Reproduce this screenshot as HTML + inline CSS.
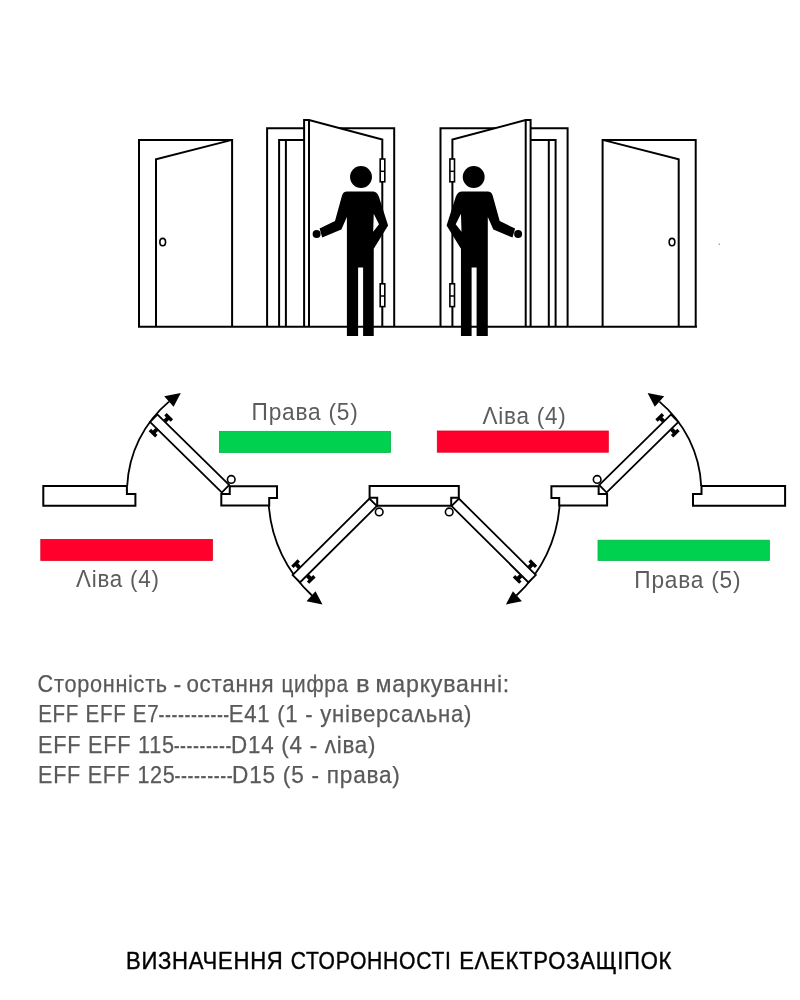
<!DOCTYPE html>
<html><head><meta charset="utf-8">
<style>
html,body{margin:0;padding:0;background:#fff;width:800px;height:1000px;overflow:hidden}
svg{display:block;will-change:transform}
text{font-family:"Liberation Sans",sans-serif}
</style></head><body>
<svg width="800" height="1000" viewBox="0 0 800 1000">
<defs>
<g id="topgrp" fill="none" stroke="#000" stroke-width="2">
  <!-- single door -->
  <path d="M139,326.7 V139.9 H232.1 V326.7"/>
  <path d="M156,326.7 V159.2 L232.1,139.9"/>
  <ellipse cx="162.7" cy="242.1" rx="2.85" ry="3.7" stroke-width="1.6"/>
  <!-- open door frame -->
  <path d="M267.1,326.7 V128.2 H394.2 V326.7"/>
  <path d="M279.1,326.7 V140 H304 M285.9,326.7 V140"/>
  <!-- door leaf -->
  <path d="M304.1,326.7 V120.1 H309 L382.3,139.5 V326.7" fill="#fff"/>
  <path d="M309,120.1 V326.7"/>
  <rect x="380.2" y="159" width="4.6" height="22.8" fill="#fff" stroke-width="1.6"/>
  <path d="M380.2,171.3 H384.8" stroke-width="1.5"/>
  <rect x="380.2" y="283.8" width="4.6" height="22.8" fill="#fff" stroke-width="1.6"/>
  <path d="M380.2,296 H384.8" stroke-width="1.5"/>
  <!-- person -->
  <circle cx="361" cy="177" r="10.95" fill="#000" stroke="none"/>
  <path fill="#000" stroke="none" d="M347.2,191.6 H372.5 Q377,191.6 379,197 L388.1,225.4 L373.75,248.75 L373.75,336 H363.1 V267.5 H358.1 V336 H346.9 V216.9 L341.35,229.6 L322.2,237.6 L319.6,228.6 L335,221.1 L341.9,196 Q343,191.6 347.2,191.6 Z M373.75,213.7 L379,224.3 L373.2,231.75 Z" fill-rule="evenodd"/>
  <circle cx="316.6" cy="234.1" r="4" fill="#000" stroke="none"/>
</g>
<g id="botgrp" stroke="#000" stroke-width="2" fill="#fff">
  <!-- outer wall piece -->
  <path d="M43.3,486 H126.9 V494 H135.4 V505.7 H43.3 Z"/>
  <!-- wall piece 2 -->
  <path d="M229.75,486.2 H277 V497.9 H269.2 V505.6 H221.3 V494 H229.75 Z"/>
  <!-- central piece half -->
  
  <!-- arc upper -->
  <path d="M127.2,486 A117,117 0 0 1 169,401.6" fill="none" stroke-width="1.8"/>
  <path d="M164.2,396.2 L180.8,392.9 L173.6,406.65 Z" fill="#000" stroke="none"/>
  <!-- arc lower -->
  <path d="M268.8,505.5 A136,136 0 0 0 312,595.5" fill="none" stroke-width="1.8"/>
  <path d="M306.5,601.25 L322.5,604.5 L315.5,591.25 Z" fill="#000" stroke="none"/>
  <!-- upper leaf -->
  <g transform="translate(153.75,418.25) rotate(44.5)">
    <rect x="0" y="-5.25" width="100.6" height="10.5" stroke-width="1.8"/>
    <path d="M5.5,-12.8 h9 v3.4 h-2.5 v3.6 h-4 v-3.6 h-2.5 z M5.5,12.8 h9 v-3.4 h-2.5 v-3.6 h-4 v3.6 h-2.5 z" fill="#000" stroke="none"/>
  </g>
  <circle cx="231.25" cy="479.4" r="3.8" stroke-width="1.6"/>
  <!-- lower leaf -->
  <g transform="translate(296.3,578.65) rotate(-44.8)">
    <rect x="0" y="-5.25" width="108.3" height="10.5" stroke-width="1.8"/>
    <path d="M5.5,-12.8 h9 v3.4 h-2.5 v3.6 h-4 v-3.6 h-2.5 z M5.5,12.8 h9 v-3.4 h-2.5 v-3.6 h-4 v3.6 h-2.5 z" fill="#000" stroke="none"/>
  </g>
  <circle cx="379.2" cy="511.9" r="3.8" stroke-width="1.6"/>
</g>
</defs>
<use href="#topgrp"/>
<use href="#topgrp" transform="translate(834.7,0) scale(-1,1)"/>
<!-- floor line -->
<path d="M138,326.7 H697" stroke="#000" stroke-width="2"/>
<use href="#botgrp"/>
<use href="#botgrp" transform="translate(828.4,0) scale(-1,1)"/>
<path d="M369.6,485.9 H458.8 V497.8 H451.2 V505.8 H377.2 V497.8 H369.6 Z" fill="none" stroke="#000" stroke-width="2"/>


<rect x="219.40" y="431.35" width="171.10" height="21.05" fill="#00d250" stroke="#00b445" stroke-width="0.8"/>
<rect x="437.30" y="431.00" width="171.00" height="21.20" fill="#ff002d" stroke="#e0001a" stroke-width="0.8"/>
<rect x="40.80" y="539.40" width="171.60" height="21.00" fill="#ff002d" stroke="#e0001a" stroke-width="0.8"/>
<rect x="598.00" y="540.20" width="171.40" height="20.20" fill="#00d250" stroke="#00b445" stroke-width="0.8"/>
<g fill="#5c5c5c">
<text x="251.58" y="419.7" font-size="23.7" textLength="106.98" lengthAdjust="spacingAndGlyphs" letter-spacing="0.8">Права (5)</text>
<text x="482.51" y="423.75" font-size="23.7" textLength="84.04" lengthAdjust="spacingAndGlyphs" letter-spacing="0.8">Λіва (4)</text>
<text x="76.01" y="586.5" font-size="23.7" textLength="83.63" lengthAdjust="spacingAndGlyphs" letter-spacing="0.8">Λіва (4)</text>
<text x="634.33" y="587.75" font-size="23.7" textLength="106.93" lengthAdjust="spacingAndGlyphs" letter-spacing="0.8">Права (5)</text>
</g>
<g fill="#595959" stroke="#595959" stroke-width="0.25">
<text x="37.61" y="692.4" font-size="23.7" textLength="130.23" lengthAdjust="spacingAndGlyphs" letter-spacing="0.8">Сторонність</text>
<text x="173.43" y="692.4" font-size="23.7" textLength="8.48" lengthAdjust="spacingAndGlyphs" letter-spacing="0.8">-</text>
<text x="186.46" y="692.4" font-size="23.7" textLength="87.98" lengthAdjust="spacingAndGlyphs" letter-spacing="0.8">остання</text>
<text x="281.46" y="692.4" font-size="23.7" textLength="67.32" lengthAdjust="spacingAndGlyphs" letter-spacing="0.8">цифра</text>
<text x="355.90" y="692.4" font-size="23.7" textLength="14.56" lengthAdjust="spacingAndGlyphs" letter-spacing="0.8">в</text>
<text x="375.59" y="692.4" font-size="23.7" textLength="134.46" lengthAdjust="spacingAndGlyphs" letter-spacing="0.8">маркуванні:</text>
<text x="38.16" y="722.4" font-size="23.7" textLength="121.18" lengthAdjust="spacingAndGlyphs" letter-spacing="0.8">EFF EFF E7</text>
<text x="158.50" y="722.4" font-size="23.7" textLength="71.36" lengthAdjust="spacingAndGlyphs" letter-spacing="0.8">-----------</text>
<text x="228.63" y="722.4" font-size="23.7" textLength="243.60" lengthAdjust="spacingAndGlyphs" letter-spacing="0.8">E41 (1 - універсаʌьна)</text>
<text x="38.07" y="752.5" font-size="23.7" textLength="136.74" lengthAdjust="spacingAndGlyphs" letter-spacing="0.8">EFF EFF 115</text>
<text x="173.65" y="752.5" font-size="23.7" textLength="58.30" lengthAdjust="spacingAndGlyphs" letter-spacing="0.8">---------</text>
<text x="231.11" y="752.5" font-size="23.7" textLength="145.10" lengthAdjust="spacingAndGlyphs" letter-spacing="0.8">D14 (4 - ʌіва)</text>
<text x="38.08" y="782.6" font-size="23.7" textLength="137.49" lengthAdjust="spacingAndGlyphs" letter-spacing="0.8">EFF EFF 125</text>
<text x="174.50" y="782.6" font-size="23.7" textLength="58.77" lengthAdjust="spacingAndGlyphs" letter-spacing="0.8">---------</text>
<text x="232.09" y="782.6" font-size="23.7" textLength="168.51" lengthAdjust="spacingAndGlyphs" letter-spacing="0.8">D15 (5 - права)</text>
</g>
<text x="125.94" y="969.45" font-size="23.7" textLength="157.61" lengthAdjust="spacingAndGlyphs" letter-spacing="0.8" fill="#000" stroke="#000" stroke-width="0.4">ВИЗНАЧЕННЯ</text>
<text x="290.64" y="969.45" font-size="23.7" textLength="160.97" lengthAdjust="spacingAndGlyphs" letter-spacing="0.8" fill="#000" stroke="#000" stroke-width="0.4">СТОРОННОСТІ</text>
<text x="459.14" y="969.45" font-size="23.7" textLength="213.04" lengthAdjust="spacingAndGlyphs" letter-spacing="0.8" fill="#000" stroke="#000" stroke-width="0.4">ЕΛЕКТРОЗАЩІПОК</text>
<circle cx="719.3" cy="244.3" r="0.7" fill="#888"/>
</svg>
</body></html>
